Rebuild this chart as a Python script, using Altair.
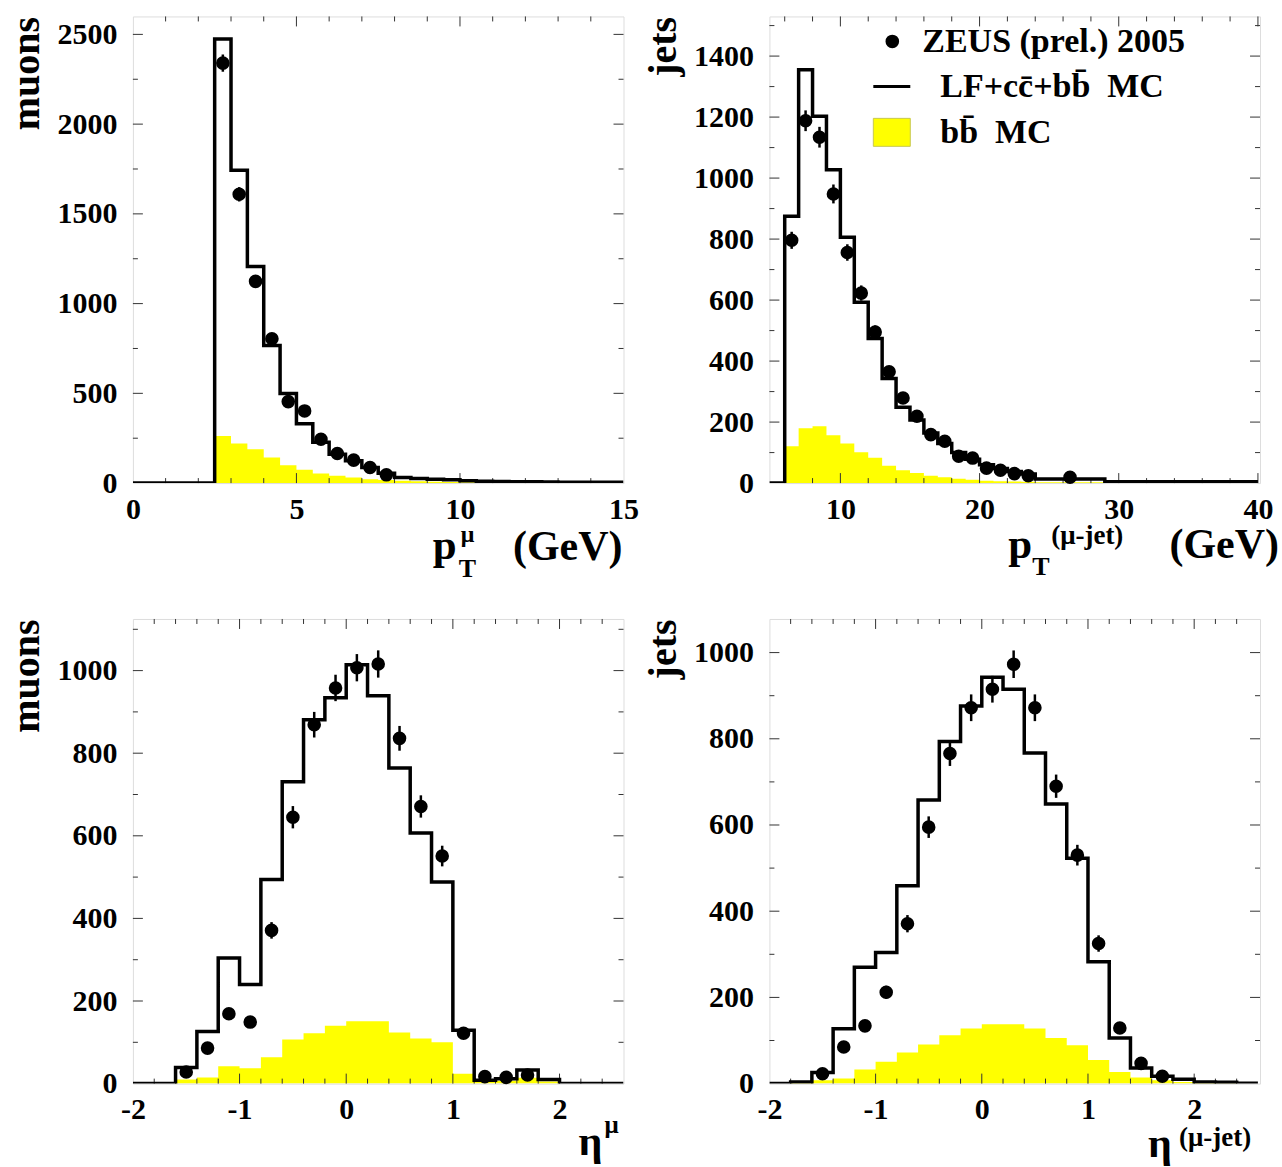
import altair as alt
import pandas as pd

FONT = "Liberation Serif"

# ---------------- Panel 1: pT of muon ----------------
p1_edges = [0, 2.5, 3.0, 3.5, 4.0, 4.5, 5.0, 5.5, 6.0, 6.5, 7.0, 7.5, 8.0, 8.5, 9.0,
            9.5, 10.0, 10.5, 11.0, 11.5, 12.0, 12.5, 13.0, 13.5, 14.0, 14.5, 15.0]
p1_mc = [0, 2475, 1743, 1207, 767, 499, 330, 227, 161, 124, 87, 55, 31, 26, 22, 18,
         13, 10, 9, 8, 7, 6, 5, 5, 4, 4]
p1_bb = [0, 263, 220, 189, 143, 100, 74, 54, 41, 31, 22, 17, 13, 10, 8, 6, 5, 4, 3,
         3, 2, 2, 2, 1, 1, 1]
p1_dx = [2.75, 3.25, 3.75, 4.25, 4.75, 5.25, 5.75, 6.25, 6.75, 7.25, 7.75]
p1_dy = [2340, 1609, 1124, 804, 454, 402, 244, 165, 128, 87, 46]
p1_de = [48, 40, 34, 28, 21, 20, 16, 13, 11, 9, 7]

# ---------------- Panel 2: pT of mu-jet ----------------
p2_edges = [4.9, 6, 7, 8, 9, 10, 11, 12, 13, 14, 15, 16, 17, 18, 19, 20, 21, 22, 23,
            24, 29, 40]
p2_mc = [0, 875, 1355, 1203, 1027, 806, 593, 474, 343, 249, 207, 164, 130, 100, 78,
         60, 48, 38, 30, 13, 4]
p2_bb = [0, 121, 180, 186, 157, 130, 101, 83, 57, 42, 33, 24, 19, 14, 11, 8, 6, 5,
         4, 3, 1]
p2_dx = [6.5, 7.5, 8.5, 9.5, 10.5, 11.5, 12.5, 13.5, 14.5, 15.5, 16.5, 17.5, 18.5,
         19.5, 20.5, 21.5, 22.5, 23.5, 26.5]
p2_dy = [796, 1188, 1134, 948, 756, 623, 495, 365, 279, 219, 159, 137, 88, 82, 49,
         42, 31, 24, 19]
p2_de = [28, 34, 34, 31, 27, 25, 22, 19, 17, 15, 13, 12, 9, 9, 7, 6, 6, 5, 3]

# ---------------- Panel 3: eta of muon ----------------
eta_edges = [-2.0, -1.8, -1.6, -1.4, -1.2, -1.0, -0.8, -0.6, -0.4, -0.2, 0.0, 0.2,
             0.4, 0.6, 0.8, 1.0, 1.2, 1.4, 1.6, 1.8, 2.0, 2.2, 2.4, 2.6]
p3_mc = [0, 0, 39, 126, 304, 240, 494, 731, 881, 934, 1014, 939, 764, 607, 488, 129,
         8, 12, 33, 10, 0, 0, 0]
p3_bb = [0, 0, 10, 15, 42, 37, 64, 107, 122, 140, 151, 151, 124, 109, 100, 24, 4, 7,
         14, 5, 0, 0, 0]
eta_dx = [-1.5, -1.3, -1.1, -0.9, -0.7, -0.5, -0.3, -0.1, 0.1, 0.3, 0.5, 0.7, 0.9,
          1.1, 1.3, 1.5, 1.7]
p3_dy = [28, 86, 169, 149, 371, 645, 869, 958, 1007, 1016, 836, 671, 551, 122, 17,
         15, 21]
p3_de = [6, 10, 14, 13, 20, 27, 31, 32, 33, 33, 30, 27, 25, 12, 5, 5, 5]

# ---------------- Panel 4: eta of mu-jet ----------------
p4_mc = [0, 4, 26, 127, 270, 304, 459, 658, 794, 876, 943, 915, 767, 649, 523, 283,
         106, 36, 17, 10, 4, 3, 1]
p4_bb = [0, 2, 8, 12, 33, 51, 72, 91, 112, 128, 138, 138, 128, 106, 89, 55, 27, 14,
         8, 4, 2, 1, 0]
p4_dy = [23, 85, 134, 212, 371, 595, 766, 872, 915, 973, 872, 690, 530, 325, 129,
         47, 17]
p4_de = [5, 10, 12, 15, 20, 25, 29, 31, 31, 32, 31, 27, 24, 19, 12, 7, 5]

# ---------------- tick positions ----------------
p1_xmaj = [0, 5, 10, 15]
p1_xmin = [1, 2, 3, 4, 6, 7, 8, 9, 11, 12, 13, 14]
p1_ymaj = [0, 500, 1000, 1500, 2000, 2500]
p1_ymin = [250, 750, 1250, 1750, 2250]
p2_xmaj = [10, 20, 30, 40]
p2_xmin = [6, 8, 12, 14, 16, 18, 22, 24, 26, 28, 32, 34, 36, 38]
p2_ymaj = [0, 200, 400, 600, 800, 1000, 1200, 1400]
p2_ymin = [100, 300, 500, 700, 900, 1100, 1300, 1500]
eta_xmaj = [-2, -1, 0, 1, 2]
eta_xmin = [-1.8, -1.6, -1.4, -1.2, -0.8, -0.6, -0.4, -0.2, 0.2, 0.4, 0.6, 0.8,
            1.2, 1.4, 1.6, 1.8, 2.2, 2.4]
eta_ymaj = [0, 200, 400, 600, 800, 1000]
p3_ymin = [100, 300, 500, 700, 900, 1100]
p4_ymin = [100, 300, 500, 700, 900]

W = 491
one = pd.DataFrame({"a": [0]})


def txt(s, x, y, size, align="left"):
    return alt.Chart(one).mark_text(
        text=s, font=FONT, fontWeight="bold", fontSize=size, align=align,
        baseline="alphabetic", color="black"
    ).encode(x=alt.value(x), y=alt.value(y))


def panel(edges, mc, bb, dx, dy, de, xdom, ydom, xmaj, xmin, ymaj, ymin,
          ytitle, H, extras):
    xs = alt.Scale(domain=xdom, nice=False, zero=False)
    ys = alt.Scale(domain=ydom, nice=False, zero=False)
    xaxis = alt.Axis(values=xmaj, labelExpr="'' + datum.value", ticks=False,
                     tickSize=0, domain=False, grid=False, labelPadding=11,
                     labelFontSize=30, labelFont=FONT, labelFontWeight="bold",
                     labelColor="black", labelFlush=False, labelOverlap=False,
                     title=None)
    yaxis = alt.Axis(values=ymaj, labelExpr="'' + datum.value", ticks=False,
                     tickSize=0, domain=False, grid=False, labelPadding=16,
                     labelFontSize=30, labelFont=FONT, labelFontWeight="bold",
                     labelColor="black", labelOverlap=False, title=ytitle,
                     titleFont=FONT, titleFontWeight="bold", titleFontSize=40,
                     titleColor="black", titleAngle=270, titleAlign="right",
                     titleBaseline="middle", titleX=-106, titleY=0)
    X = alt.X("x:Q", scale=xs, axis=xaxis)
    Y = alt.Y("y:Q", scale=ys, axis=yaxis)

    area_df = pd.DataFrame({"x": edges, "y": bb + [bb[-1]]})
    line_df = pd.DataFrame({"x": edges, "y": mc + [mc[-1]]})
    pts_df = pd.DataFrame({"x": dx, "y": dy,
                           "lo": [a - b for a, b in zip(dy, de)],
                           "hi": [a + b for a, b in zip(dy, de)]})

    area = alt.Chart(area_df).mark_area(interpolate="step-after", color="#ffff00",
                                        opacity=1, clip=True).encode(x=X, y=Y)
    line = alt.Chart(line_df).mark_line(interpolate="step-after", color="black",
                                        strokeWidth=3.5, strokeJoin="miter",
                                        clip=True).encode(x=X, y=Y)
    err = alt.Chart(pts_df).mark_rule(color="black", strokeWidth=2.5).encode(
        x=X, y=alt.Y("lo:Q", scale=ys, axis=yaxis), y2="hi:Q")
    dots = alt.Chart(pts_df).mark_circle(color="black", opacity=1, size=185).encode(
        x=X, y=Y)

    layers = [area]
    tick_color = "#333333"
    for vals, ln in ((xmaj, 10), (xmin, 5)):
        vals = [v for v in vals if xdom[0] < v < xdom[1]]
        tdf = pd.DataFrame({"x": vals})
        layers.append(alt.Chart(tdf).mark_rule(color=tick_color, strokeWidth=1).encode(
            x=X, y=alt.value(H), y2=alt.value(H - ln)))
        layers.append(alt.Chart(tdf).mark_rule(color=tick_color, strokeWidth=1).encode(
            x=X, y=alt.value(0), y2=alt.value(ln)))
    for vals, ln in ((ymaj, 10), (ymin, 5)):
        vals = [v for v in vals if ydom[0] < v < ydom[1]]
        tdf = pd.DataFrame({"y": vals})
        layers.append(alt.Chart(tdf).mark_rule(color=tick_color, strokeWidth=1).encode(
            y=Y, x=alt.value(0), x2=alt.value(ln)))
        layers.append(alt.Chart(tdf).mark_rule(color=tick_color, strokeWidth=1).encode(
            y=Y, x=alt.value(W), x2=alt.value(W - ln)))
    layers += [line, err, dots] + extras
    return alt.layer(*layers).properties(width=W, height=H)


# axis-title pieces (positions relative to each panel's plot area)
p1_extra = [txt("p", 300, 543, 43), txt("T", 326, 561, 26), txt("μ", 328, 526, 24),
            txt("(GeV)", 490, 544, 42, "right")]
p2_extra = [txt("p", 239, 542, 43), txt("T", 263, 559, 26),
            txt("(μ-jet)", 282, 528, 27), txt("(GeV)", 510, 542, 42, "right")]
p3_extra = [txt("η", 446, 536, 42), txt("μ", 472, 514, 25)]
p4_extra = [txt("η", 379, 538, 42), txt("(μ-jet)", 410, 527, 27)]

# legend (inside panel 2)
legend = [
    alt.Chart(one).mark_circle(color="black", opacity=1, size=185).encode(
        x=alt.value(123), y=alt.value(25)),
    txt("ZEUS (prel.) 2005", 153, 36, 34),
    alt.Chart(one).mark_rule(color="black", strokeWidth=3).encode(
        x=alt.value(104), x2=alt.value(141), y=alt.value(70)),
    txt("LF+cc\u0304+bb\u0304\u2002MC", 171, 81, 34),
    alt.Chart(one).mark_rect(fill="#ffff00", stroke="#c8c850", strokeWidth=1).encode(
        x=alt.value(104), x2=alt.value(141), y=alt.value(102), y2=alt.value(130)),
    txt("bb\u0304\u2002MC", 171, 127, 34),
]

c1 = panel(p1_edges, p1_mc, p1_bb, p1_dx, p1_dy, p1_de, [0, 15], [0, 2600],
           p1_xmaj, p1_xmin, p1_ymaj, p1_ymin, "muons", 467, p1_extra)
c2 = panel(p2_edges, p2_mc, p2_bb, p2_dx, p2_dy, p2_de, [4.9, 40.15], [0, 1530],
           p2_xmaj, p2_xmin, p2_ymaj, p2_ymin, "jets", 467, p2_extra + legend)
c3 = panel(eta_edges, p3_mc, p3_bb, eta_dx, p3_dy, p3_de, [-2, 2.6], [0, 1125],
           eta_xmaj, eta_xmin, eta_ymaj, p3_ymin, "muons", 465, p3_extra)
c4 = panel(eta_edges, p4_mc, p4_bb, eta_dx, p4_dy, p4_de, [-2, 2.62], [0, 1078],
           eta_xmaj, eta_xmin, eta_ymaj, p4_ymin, "jets", 465, p4_extra)

chart = alt.concat(c1, c2, c3, c4, columns=2,
                   spacing={"row": 136, "column": 146},
                   bounds="flush").properties(
    padding={"left": 6, "top": 15, "right": 2, "bottom": 2}
).configure_view(stroke="#222222", strokeWidth=1.5).configure(background="white")

chart.save("out.html", embed_options={"renderer": "svg", "actions": False})
